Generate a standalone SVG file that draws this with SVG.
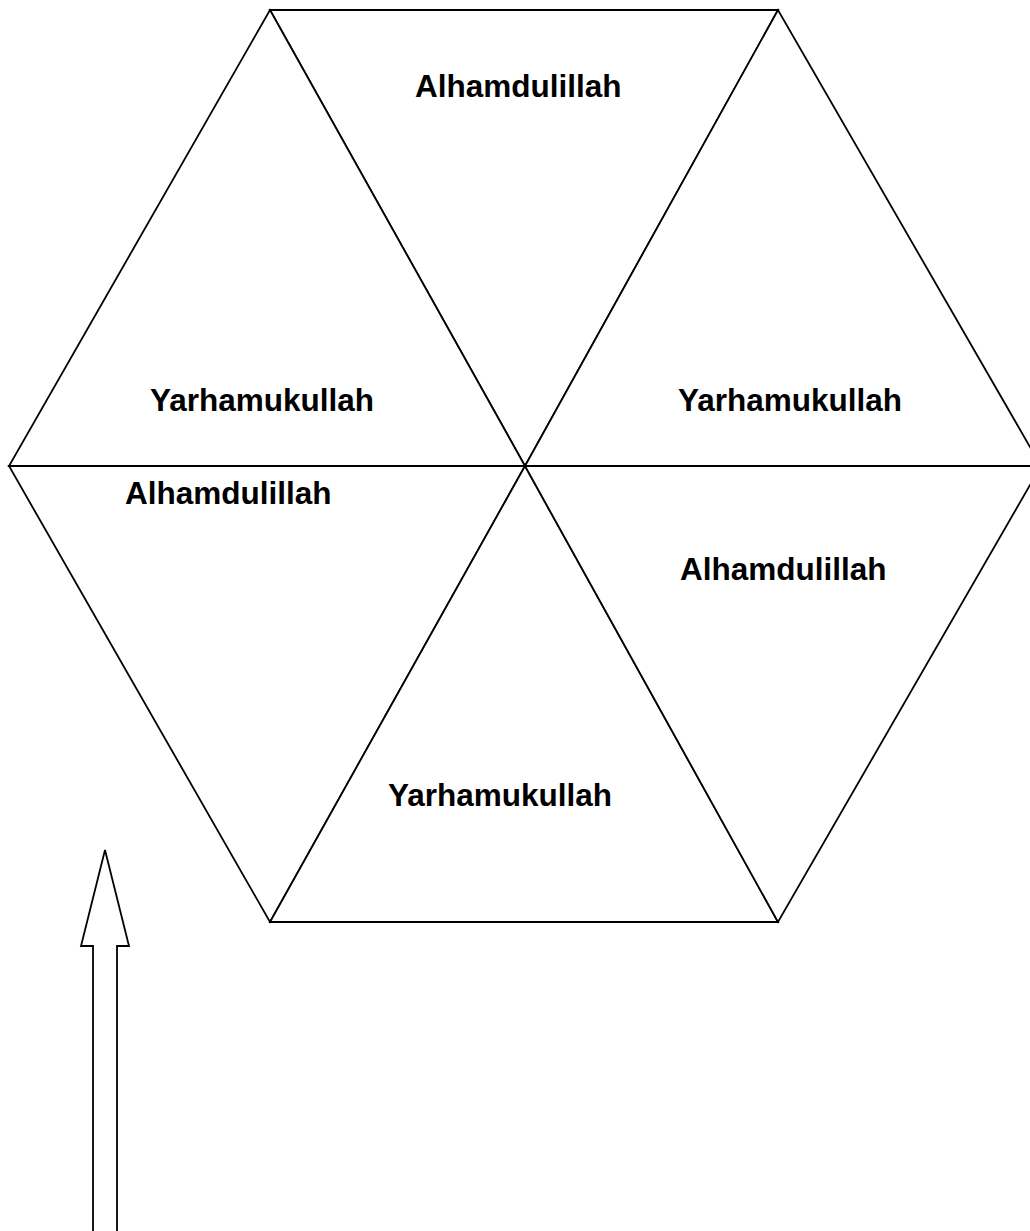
<svg xmlns="http://www.w3.org/2000/svg" width="1030" height="1231" viewBox="0 0 1030 1231">
<style>
.tri{fill:#ffffff;stroke:#000000;stroke-width:1.8;stroke-linejoin:miter}
.lbl{font-family:"Liberation Sans",Arial,sans-serif;font-weight:bold;font-size:31.5px;fill:#000000}
</style>
<rect x="0" y="0" width="1030" height="1231" fill="#ffffff"/>
<g id="tri-top">
<polygon class="tri" points="270,10 778,10 525,466"/>
<text class="lbl" x="415" y="97">Alhamdulillah</text>
</g>
<g id="tri-upper-left">
<polygon class="tri" points="270,10 9,466 525,466"/>
<text class="lbl" x="150" y="411">Yarhamukullah</text>
</g>
<g id="tri-upper-right">
<polygon class="tri" points="778,10 525,466 1041,466"/>
<text class="lbl" x="678" y="411">Yarhamukullah</text>
</g>
<g id="tri-lower-left">
<polygon class="tri" points="9,466 525,466 270,922"/>
<text class="lbl" x="125" y="504">Alhamdulillah</text>
</g>
<g id="tri-bottom">
<polygon class="tri" points="525,466 270,922 778,922"/>
<text class="lbl" x="388" y="806">Yarhamukullah</text>
</g>
<g id="tri-lower-right">
<polygon class="tri" points="525,466 1041,466 778,922"/>
<text class="lbl" x="680" y="580">Alhamdulillah</text>
</g>
<g id="connectors">
<polygon class="tri" points="105,850 129,946 117,946 117,1233 93,1233 93,946 81,946"/>
</g>
</svg>
